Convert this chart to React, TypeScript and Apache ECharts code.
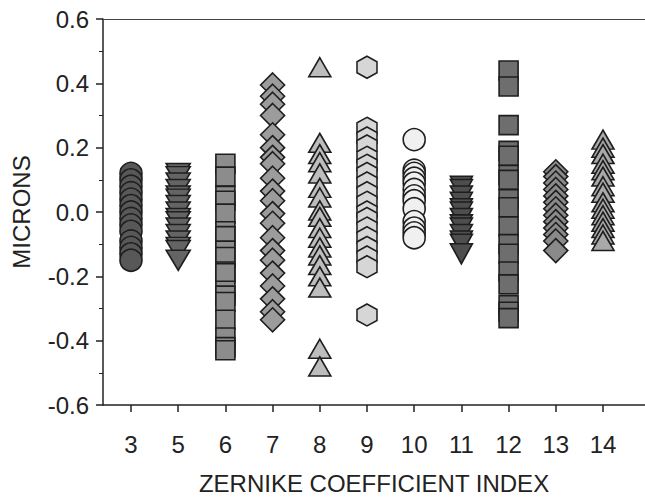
import React, { useEffect, useRef } from "react";
import * as echarts from "echarts";

const categories = ["3", "5", "6", "7", "8", "9", "10", "11", "12", "13", "14"];
const yTicks = [-0.6, -0.4, -0.2, 0.0, 0.2, 0.4, 0.6];

const z3 = [0.12, 0.10, 0.08, 0.06, 0.04, 0.02, 0.0, -0.02, -0.04, -0.06, -0.09, -0.11, -0.13, -0.15];
const z5 = [0.12, 0.11, 0.09, 0.07, 0.05, 0.04, 0.02, 0.0, -0.02, -0.03, -0.05, -0.07, -0.09, -0.11, -0.12, -0.15];
const z6 = [0.15, 0.11, 0.05, 0.035, -0.005, -0.06, -0.075, -0.12, -0.14, -0.185, -0.19, -0.245, -0.26, -0.28, -0.335, -0.39, -0.42, -0.43];
const z7 = [0.395, 0.36, 0.335, 0.30, 0.24, 0.20, 0.17, 0.15, 0.105, 0.065, 0.035, -0.005, -0.035, -0.08, -0.12, -0.15, -0.19, -0.23, -0.27, -0.31, -0.335];
const z8 = [0.45, 0.215, 0.18, 0.155, 0.12, 0.075, 0.045, 0.005, -0.015, -0.05, -0.08, -0.11, -0.135, -0.165, -0.2, -0.235, -0.425, -0.48];
const z9 = [0.45, 0.26, 0.23, 0.205, 0.17, 0.145, 0.12, 0.09, 0.06, 0.03, 0.0, -0.02, -0.05, -0.08, -0.11, -0.14, -0.17, -0.32];
const z10 = [0.225, 0.13, 0.12, 0.105, 0.09, 0.07, 0.05, 0.035, 0.01, -0.03, -0.05, -0.065, -0.08];
const z11 = [0.08, 0.07, 0.05, 0.03, 0.01, 0.0, -0.02, -0.04, -0.05, -0.07, -0.09, -0.10, -0.13];
const z12 = [0.44, 0.39, 0.27, 0.19, 0.175, 0.115, 0.10, 0.04, 0.015, -0.045, -0.10, -0.13, -0.185, -0.225, -0.29, -0.31, -0.33];
const z13 = [0.125, 0.11, 0.09, 0.07, 0.05, 0.03, 0.01, -0.01, -0.03, -0.05, -0.07, -0.09, -0.12];
const z14 = [0.225, 0.2, 0.18, 0.15, 0.13, 0.11, 0.08, 0.06, 0.03, 0.01, -0.01, -0.03, -0.05, -0.07, -0.09];

const values = [z3, z5, z6, z7, z8, z9, z10, z11, z12, z13, z14];

const HEX = "path://M0,-1 L0.866,-0.5 L0.866,0.5 L0,1 L-0.866,0.5 L-0.866,-0.5 Z";

const styles: { symbol: string; size: number[]; rotate: number; color: string }[] = [
  { symbol: "circle", size: [22, 22], rotate: 0, color: "#585858" },
  { symbol: "triangle", size: [24, 20], rotate: 180, color: "#646464" },
  { symbol: "rect", size: [19, 19], rotate: 0, color: "#8c8c8c" },
  { symbol: "diamond", size: [24, 24], rotate: 0, color: "#9c9c9c" },
  { symbol: "triangle", size: [22, 19], rotate: 0, color: "#bdbdbd" },
  { symbol: HEX, size: [20, 22], rotate: 0, color: "#d6d6d6" },
  { symbol: "circle", size: [22, 22], rotate: 0, color: "#f0f0f0" },
  { symbol: "triangle", size: [22, 20], rotate: 180, color: "#4e4e4e" },
  { symbol: "rect", size: [19, 19], rotate: 0, color: "#6e6e6e" },
  { symbol: "diamond", size: [24, 24], rotate: 0, color: "#8a8a8a" },
  { symbol: "triangle", size: [22, 19], rotate: 0, color: "#a9a9a9" },
];

export default function App() {
  const ref = useRef<HTMLDivElement>(null);
  useEffect(() => {
    if (!ref.current) return;
    const chart = echarts.init(ref.current, null, { renderer: "svg" });
    const font = "Liberation Sans, Arial, sans-serif";
    const xIdx = categories.map((_, i) => i);
    const series = values.map((vals, i) => ({
      type: "scatter",
      name: categories[i],
      data: vals.map((v) => [i, v]),
      symbol: styles[i].symbol,
      symbolSize: styles[i].size,
      symbolRotate: styles[i].rotate,
      itemStyle: { color: styles[i].color, borderColor: "#1e1e1e", borderWidth: 1.6, opacity: 1 },
      emphasis: { disabled: true },
    }));
    chart.setOption({
      animation: false,
      backgroundColor: "#ffffff",
      grid: { left: 103, right: 0, top: 19, bottom: 92, containLabel: false },
      xAxis: [
        {
          type: "value",
          min: -0.593,
          max: 10.89,
          position: "bottom",
          splitLine: { show: false },
          axisLine: { show: true, onZero: false, lineStyle: { color: "#222", width: 1.5 } },
          axisTick: { show: true, customValues: xIdx, length: 7, lineStyle: { color: "#222", width: 1.5 } },
          axisLabel: {
            show: true,
            customValues: xIdx,
            formatter: (v: number) => categories[Math.round(v)] ?? "",
            fontSize: 24,
            fontFamily: font,
            color: "#222",
            margin: 27,
          },
          name: "ZERNIKE COEFFICIENT INDEX",
          nameLocation: "middle",
          nameGap: 66,
          nameTextStyle: { fontSize: 24, fontFamily: font, color: "#222" },
        },
        {
          type: "value",
          min: -0.593,
          max: 10.89,
          position: "top",
          splitLine: { show: false },
          axisLine: { show: true, onZero: false, lineStyle: { color: "#444", width: 1.2 } },
          axisTick: { show: false },
          axisLabel: { show: false },
        },
      ],
      yAxis: {
        type: "value",
        min: -0.6,
        max: 0.6,
        interval: 0.2,
        splitLine: { show: false },
        axisLine: { show: true, onZero: false, lineStyle: { color: "#222", width: 1.5 } },
        axisTick: { show: true, length: 7, lineStyle: { color: "#222", width: 1.5 } },
        minorTick: { show: true, splitNumber: 2, length: 4, lineStyle: { color: "#222", width: 1 } },
        axisLabel: {
          fontSize: 24,
          fontFamily: font,
          color: "#222",
          margin: 14,
          formatter: (v: number) => {
            const n = yTicks.reduce((a, b) => (Math.abs(b - v) < Math.abs(a - v) ? b : a), yTicks[0]);
            return (Math.abs(n) < 1e-9 ? 0 : n).toFixed(1);
          },
        },
        name: "MICRONS",
        nameLocation: "middle",
        nameGap: 70,
        nameTextStyle: { fontSize: 24, fontFamily: font, color: "#222" },
      },
      series,
    });
    return () => chart.dispose();
  }, []);
  return (
    <div
      ref={ref}
      style={{ position: "fixed", left: 0, top: 0, width: 645, height: 500, background: "#fff" }}
    />
  );
}
